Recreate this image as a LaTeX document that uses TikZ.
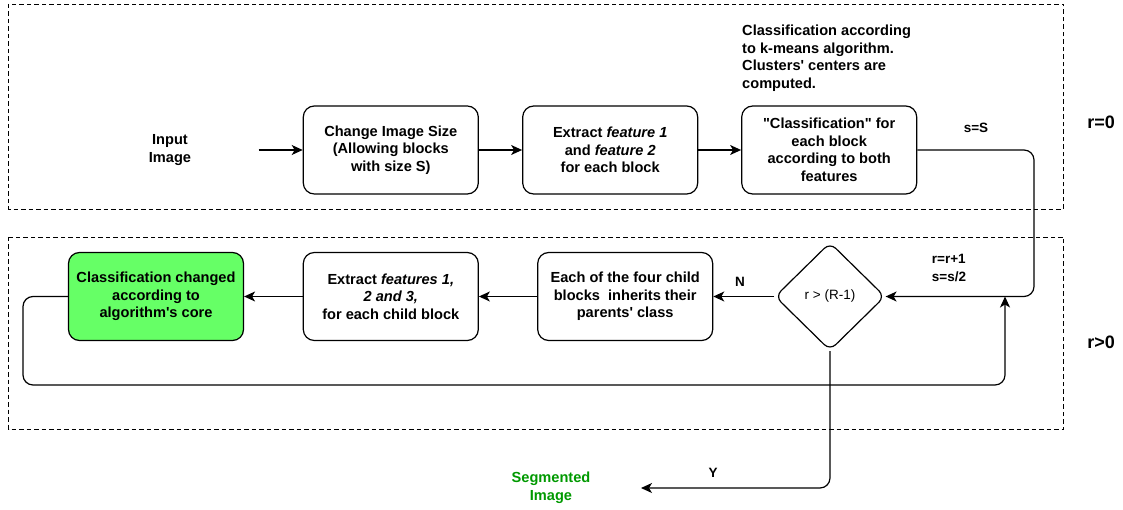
\documentclass[tikz,border=0pt]{standalone}
\usepackage{fontspec}
\setmainfont{Liberation Sans}
\usetikzlibrary{arrows.meta,shapes.geometric}
\definecolor{corefill}{HTML}{66FF66}
\definecolor{segtext}{HTML}{009900}
\tikzset{
  proc/.style={draw, line width=1.2pt, rounded corners=11pt, minimum width=175pt,
    minimum height=88pt, align=center, inner sep=2pt,
    font=\fontsize{14.6}{17.5}\selectfont\bfseries},
  lbl/.style={align=center, inner sep=0pt, font=\fontsize{14.6}{17.5}\selectfont\bfseries},
  small/.style={align=left, inner sep=0pt, font=\fontsize{13.5}{17.5}\selectfont\bfseries},
  stage/.style={inner sep=0pt, font=\fontsize{18}{20}\selectfont\bfseries},
  conn/.style={line width=1.2pt, rounded corners=10pt,
    -{Stealth[length=11pt,width=10pt,inset=3pt]}},
  region/.style={dash pattern=on 4.5pt off 3pt, line width=0.9pt},
  decide/.style={draw, diamond, line width=1.2pt, rounded corners=8pt,
    minimum width=110pt, minimum height=108pt, inner sep=0pt,
    font=\fontsize{13.5}{15}\selectfont}
}
\begin{document}
\begin{tikzpicture}[x=1pt,y=-1pt]
\useasboundingbox (0,0) rectangle (1123,510);

% stage regions
\draw[region] (8.6,4) rectangle (1063.6,209);
\draw[region] (8.6,237) rectangle (1063.6,429);
\node[stage] (r0) at (1101,122) {r=0};
\node[stage] (r1) at (1101,342) {r>0};

% first pass, r = 0
\node[lbl] (inp) at (170,150) {Input\\Image};
\coordinate (inpend) at (258.6,150);
\node[proc] (resize) at (390.8,150) {Change Image Size\\(Allowing blocks\\with size S)};
\node[proc] (feat12) at (610.2,150) {Extract \textit{feature 1}\\and \textit{feature 2}\\for each block};
\node[proc] (kmeans) at (829.2,150) {\textquotedbl Classification\textquotedbl{} for\\each block\\according to both\\features};
\node[lbl, align=left, anchor=north west] (note) at (742,25)
  {Classification according\\to k-means algorithm.\\Clusters\textquotesingle{} centers are\\computed.};
\node[small] (sS) at (976,128) {s=S};

% refinement passes, r > 0
\node[decide] (test) at (830,296.5) {r > (R-1)};
\node[proc] (inherit) at (625.2,296.5) {Each of the four child\\blocks\ \ inherits their\\parents\textquotesingle{} class};
\node[proc] (feat123) at (390.8,296.5) {Extract \textit{features 1,}\\\textit{2 and 3,}\\for each child block};
\node[proc, fill=corefill] (core) at (156,296.5) {Classification changed\\according to\\algorithm\textquotesingle s core};
\node[small] (upd) at (949,268) {r=r+1\\s=s/2};
\node[small] (no) at (740,282) {N};
\node[small] (yes) at (713,473) {Y};
\node[lbl, text=segtext] (seg) at (551,488) {Segmented\\Image};

\coordinate (loopin) at (1005,296.5);
\coordinate (segend) at (641,488);

% connectors
\draw[conn] (inpend) -- (resize.west);
\draw[conn] (resize) -- (feat12);
\draw[conn] (feat12) -- (kmeans);
\draw[conn] (kmeans.east) -- (1034,150) -- (1034,296.5) -- (test.east);
\draw[conn] (test.west) -- (inherit.east);
\draw[conn] (inherit) -- (feat123);
\draw[conn] (feat123) -- (core);
\draw[conn] (core.west) -- (23,296.5) -- (23,385) -- (1005,385) -- (loopin);
\draw[conn] (test.south) -- (830,488) -- (segend);
\end{tikzpicture}
\end{document}
